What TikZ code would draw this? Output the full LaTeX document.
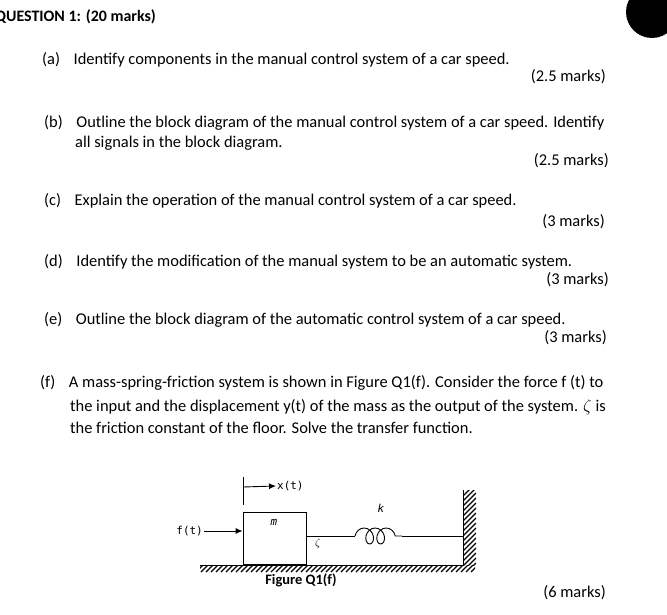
\documentclass[tikz,border=0pt]{standalone}
\usepackage{fontspec}
\setmainfont{Carlito}
\newfontfamily\tfont{DejaVu Sans Mono}
\usetikzlibrary{decorations.pathmorphing,arrows.meta}
\begin{document}
\begin{tikzpicture}[x=1bp,y=-1bp,
  txt/.style={anchor=west,font=\fontsize{16.5}{19}\selectfont,inner sep=0pt},
  mk/.style={anchor=east,font=\fontsize{16.5}{19}\selectfont,inner sep=0pt},
  lab/.style={font=\tfont\fontsize{11}{12}\selectfont,inner sep=1pt},
  hatch/.style={line width=1.1pt},
  arr/.style={-{Latex[length=7bp,width=6bp]},line width=0.9pt}]
\useasboundingbox (0,0) rectangle (667,615);
\fill[black] (652,12) circle (26);
\node[txt,font=\bfseries\fontsize{16}{19}\selectfont] (title) at (-5,17) {QUESTION 1: (20 marks)};
\node[txt] (qa) at (42,60) {(a)\hspace{0.6em} Identify components in the manual control system of a car speed.};
\node[mk] (ma) at (606,77) {(2.5 marks)};
\node[txt] (qb) at (44,123) {(b)\hspace{0.6em} Outline the block diagram of the manual control system of a car speed. Identify};
\node[txt] (qb2) at (75,143) {all signals in the block diagram.};
\node[mk] (mb) at (609,161) {(2.5 marks)};
\node[txt] (qc) at (44,201) {(c)\hspace{0.6em} Explain the operation of the manual control system of a car speed.};
\node[mk] (mc) at (605,222) {(3 marks)};
\node[txt] (qd) at (44,262) {(d)\hspace{0.6em} Identify the modification of the manual system to be an automatic system.};
\node[mk] (md) at (609,280) {(3 marks)};
\node[txt] (qe) at (44,320) {(e)\hspace{0.6em} Outline the block diagram of the automatic control system of a car speed.};
\node[mk] (me) at (607,338) {(3 marks)};
\node[txt] (qf) at (40,383) {(f)\hspace{0.6em} A mass-spring-friction system is shown in Figure Q1(f). Consider the force f (t) to};
\node[txt] (qf2) at (70,407) {the input and the displacement y(t) of the mass as the output of the system. $\zeta$ is};
\node[txt] (qf3) at (70,428) {the friction constant of the floor. Solve the transfer function.};
\node[mk] (mf) at (606,593) {(6 marks)};
% figure
\begin{scope}
\clip (200,565) rectangle (475,572);
\foreach \i in {200,205,...,480} \draw[hatch] (\i-4,572) -- (\i+3,565);
\end{scope}
\begin{scope}
\clip (463,490) rectangle (476,565);
\foreach \i in {488,493,...,570} \draw[hatch] (463,\i+8) -- (476,\i-5);
\end{scope}
\draw[line width=1pt] (200,565) -- (463,565) -- (463,490);
\node[draw,line width=0.9pt,minimum width=63bp,minimum height=52bp,inner sep=0pt] (mass) at (274.5,538) {};
\node[lab] (m) at (274,522) {\textit{m}};
\coordinate (sp1) at (355,536);
\coordinate (sp2) at (402,536);
\draw[line width=0.9pt] (mass.east |- sp1) -- (sp1);
\draw[line width=0.9pt,decoration={coil,aspect=0.8,segment length=11bp,amplitude=8bp},decorate] (sp1) -- (sp2);
\draw[line width=0.9pt] (sp2) -- (463,536);
\node[lab] (k) at (381,508) {\textit{k}};
\node[lab] (z) at (318,544) {$\zeta$};
\node[lab,anchor=east] (f) at (204,531) {f(t)};
\draw[arr] (f.east) -- (mass.west |- f.east);
\coordinate (xt0) at (243,477);
\coordinate (xt1) at (243,505);
\draw[line width=0.9pt] (xt0) -- (xt1);
\node[lab,anchor=west] (x) at (276,486) {x(t)};
\draw[arr] (243,487) -- (x.west);
\node[font=\bfseries\fontsize{14.5}{16}\selectfont,inner sep=0pt] (cap) at (301,580) {Figure Q1(f)};
\end{tikzpicture}
\end{document}
